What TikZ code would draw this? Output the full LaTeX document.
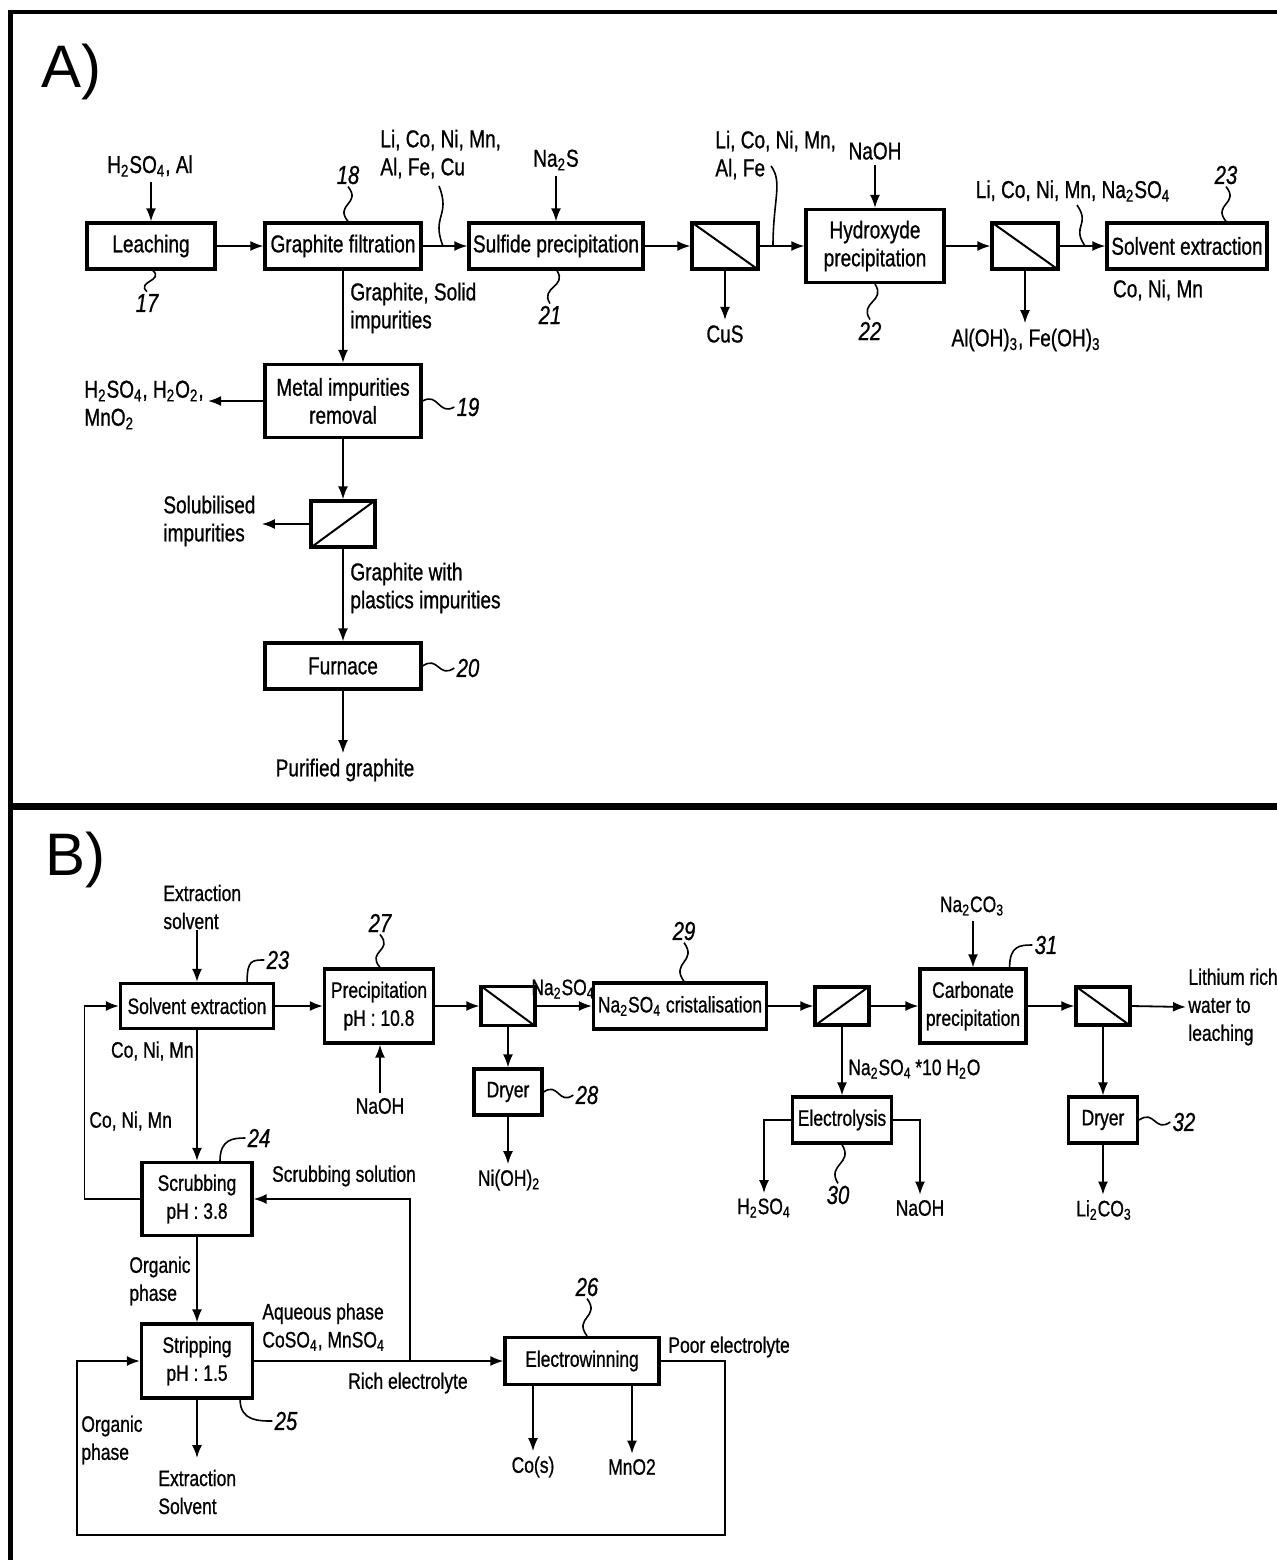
\documentclass[tikz,border=0pt]{standalone}
\usepackage{fontspec}
\setmainfont{Liberation Sans}
\newfontfamily\cond{Liberation Sans}[FakeStretch=0.78,FakeBold=0.8]
\usetikzlibrary{arrows.meta,calc}
\newcommand\fA{\cond\fontsize{12.2}{14}\selectfont}
\newcommand\fB{\cond\fontsize{11.2}{14}\selectfont}
\newcommand\fN{\cond\itshape\fontsize{13}{14}\selectfont}
\newcommand\fBig{\fontsize{30}{32}\selectfont}
\newcommand\sbs[1]{\textsubscript{#1}}
\tikzset{
  bx/.style 2 args={draw, line width=1.6pt, minimum width=#1*0.5pt, minimum height=#2*0.5pt, inner sep=0pt, align=center},
  fl/.style 2 args={draw, line width=1.6pt, minimum width=#1*0.5pt, minimum height=#2*0.5pt, inner sep=0pt},
  lbl/.style={inner sep=2.5pt, align=center},
  lbll/.style={inner sep=0pt, align=left, anchor=west},
  num/.style={inner sep=1pt, font=\fN},
  arr/.style={line width=0.9pt, -{Latex[length=6.5pt,width=5pt]}},
  lead/.style={line width=0.8pt},
  diag/.style={line width=1pt, shorten >=1pt, shorten <=1pt},
  sqv/.style={lead, to path={.. controls ($(\tikztostart)!0.5!(\tikztotarget)+(#1,0)$) and ($(\tikztostart)!0.5!(\tikztotarget)+(-#1,0)$) .. (\tikztotarget)}},
  sqv/.default=14,
  sqh/.style={lead, to path={.. controls ($(\tikztostart)!0.5!(\tikztotarget)+(0,-#1)$) and ($(\tikztostart)!0.5!(\tikztotarget)+(0,#1)$) .. (\tikztotarget)}},
  sqh/.default=12,
}
\begin{document}
\begin{tikzpicture}[x=0.5pt,y=-0.5pt]
\useasboundingbox (0,0) rectangle (1276,1560);
\fill[white] (0,0) rectangle (1276,1560);
% frame
\draw[line width=2.6pt] (10.5,10) -- (10.5,1565);
\draw[line width=2pt] (9,12) -- (1285,12);
\draw[line width=3.5pt] (10.5,806) -- (1285,806);

% ================= Panel A =================
\node[anchor=base west, inner sep=0pt, font=\fBig] (la) at (41,87) {A)};

\node[bx={128}{46}, font=\fA] (leach) at (151,246) {Leaching};
\node[bx={156}{46}, font=\fA] (gf) at (343,246) {Graphite filtration};
\node[bx={174}{46}, font=\fA] (sulf) at (556,246) {Sulfide precipitation};
\node[fl={66}{46}] (f1) at (725,246) {};
\node[bx={138}{73}, font=\fA] (hyd) at (875,246) {Hydroxyde\\precipitation};
\node[fl={66}{46}] (f2) at (1025,246) {};
\node[bx={160}{46}, font=\fA] (seA) at (1187,246) {Solvent extraction};
\node[bx={156}{73}, font=\fA] (metal) at (343,401) {Metal impurities\\removal};
\node[fl={64}{46}] (f3) at (343,524) {};
\node[bx={156}{46}, font=\fA] (furn) at (343,666) {Furnace};

\draw[diag] (f1.north west) -- (f1.south east);
\draw[diag] (f2.north west) -- (f2.south east);
\draw[diag] (f3.south west) -- (f3.north east);

\draw[arr] (leach) -- (gf);
\draw[arr] (gf) -- (sulf);
\draw[arr] (sulf) -- (f1);
\draw[arr] (f1) -- (hyd);
\draw[arr] (hyd) -- (f2);
\draw[arr] (f2) -- (seA);
\draw[arr] (gf) -- (metal);
\draw[arr] (metal) -- (f3);
\draw[arr] (f3) -- (furn);

\node[lbl, font=\fA] (h2so4a) at (150,166) {H\sbs{2}SO\sbs{4}, Al};
\draw[arr] (h2so4a.south -| leach.north) -- (leach.north);
\node[lbl, font=\fA] (na2s) at (556,160) {Na\sbs{2}S};
\draw[arr] (na2s.south -| sulf.north) -- (sulf.north);
\node[lbl, font=\fA] (naoha) at (875,151) {NaOH};
\draw[arr] (naoha.south -| hyd.north) -- (hyd.north);

\node[lbl, font=\fA] (cus) at (725,334) {CuS};
\draw[arr] (f1.south) -- (cus.north);
\node[lbl, font=\fA] (aloh) at (1026,340) {Al(OH)\sbs{3}, Fe(OH)\sbs{3}};
\draw[arr] (f2.south) -- (f2.south |- aloh.north);

\node[lbll, font=\fA] (lm1) at (380,154) {Li, Co, Ni, Mn,\\Al, Fe, Cu};
\coordinate (j1) at (443,246);
\draw[sqv=10] (439,186) to (j1);
\node[lbll, font=\fA] (lm2) at (715,155) {Li, Co, Ni, Mn,\\Al, Fe};
\coordinate (j2) at (773,246);
\draw[lead] (771,166) .. controls (783,182) and (773,200) .. (j2);
\node[lbl, font=\fA] (lm3) at (1073,191) {Li, Co, Ni, Mn, Na\sbs{2}SO\sbs{4}};
\coordinate (j3) at (1085,246);
\draw[sqv=10] (1077,205) to (j3);
\node[lbl, font=\fA] (conimA) at (1158,290) {Co, Ni, Mn};

\node[lbll, font=\fA] (gsi) at (350,308) {Graphite, Solid\\impurities};
\node[lbll, font=\fA] (hhm) at (84,405) {H\sbs{2}SO\sbs{4}, H\sbs{2}O\sbs{2},\\MnO\sbs{2}};
\draw[arr] (metal.west) -- ([xshift=2pt]metal.west -| hhm.east);
\node[lbll, font=\fA] (solu) at (163,521) {Solubilised\\impurities};
\draw[arr] (f3.west) -- ([xshift=3pt]f3.west -| solu.east);
\node[lbll, font=\fA] (gwp) at (350,588) {Graphite with\\plastics impurities};
\node[lbl, font=\fA] (pg) at (345,770) {Purified graphite};
\draw[arr] (furn.south) -- (furn.south |- pg.north);

\node[num] (n17) at (147,303) {17};
\draw[sqv] ([xshift=1pt]leach.south) to (n17.north);
\node[num] (n18) at (348,175) {18};
\draw[sqv] (n18.south) to (n18.south |- gf.north);
\node[num] (n21) at (550,315) {21};
\draw[sqv] ([xshift=0.5pt]sulf.south) to (n21.north);
\node[num] (n22) at (870,331) {22};
\draw[sqv] (hyd.south) to (n22.north);
\node[num] (n23a) at (1226,175) {23};
\draw[sqv] (n23a.south) to (n23a.south |- seA.north);
\node[num] (n19) at (468,407) {19};
\draw[sqh] (metal.east) to (n19.west);
\node[num] (n20) at (468,668) {20};
\draw[sqh] (furn.east) to (n20.west);

% ================= Panel B =================
\node[anchor=base west, inner sep=0pt, font=\fBig] (lb) at (45,875) {B)};

\node[bx={153}{45}, font=\fB] (seB) at (197,1006) {Solvent extraction};
\node[bx={109}{74}, font=\fB] (prec) at (379,1006) {Precipitation\\pH : 10.8};
\node[fl={54}{39}] (f4) at (508,1006) {};
\node[bx={173}{46}, font=\fB] (cry) at (680,1006) {Na\sbs{2}SO\sbs{4} cristalisation};
\node[fl={54}{38}] (f5) at (842,1006) {};
\node[bx={106}{74}, font=\fB] (carb) at (973,1006) {Carbonate\\precipitation};
\node[fl={54}{38}] (f6) at (1103,1006) {};
\node[bx={68}{46}, font=\fB] (dry1) at (508,1092) {Dryer};
\node[bx={99}{46}, font=\fB] (elys) at (842,1120) {Electrolysis};
\node[bx={69}{46}, font=\fB] (dry2) at (1103,1120) {Dryer};
\node[bx={110}{73}, font=\fB] (scrub) at (197,1199) {Scrubbing\\pH : 3.8};
\node[bx={111}{74}, font=\fB] (strip) at (197,1361) {Stripping\\pH : 1.5};
\node[bx={154}{47}, font=\fB] (ew) at (582,1361) {Electrowinning};

\draw[diag] (f4.north west) -- (f4.south east);
\draw[diag] (f5.south west) -- (f5.north east);
\draw[diag] (f6.north west) -- (f6.south east);

\draw[arr] (seB) -- (prec);
\draw[arr] (prec) -- (f4);
\draw[arr] (f4) -- (cry);
\draw[arr] (cry) -- (f5);
\draw[arr] (f5) -- (carb);
\draw[arr] (carb) -- (f6);
\draw[arr] (f4) -- (dry1);
\draw[arr] (f5) -- (elys);
\draw[arr] (f6) -- (dry2);
\draw[arr] (seB) -- (scrub);
\draw[arr] (scrub) -- (strip);
\draw[arr] (strip) -- (ew);
\draw[arr] (scrub.west) -- ++(-56,0) |- (seB.west);
\coordinate (jn) at (410,1361);
\draw[arr] (jn) |- (scrub.east);
\coordinate (pe1) at (725,1535);
\coordinate (pe2) at (77,1535);
\draw[arr] (ew.east) -| (pe1) -- (pe2) |- (strip.west);

\node[lbll, font=\fB] (exs) at (163,907) {Extraction\\solvent};
\draw[arr] (exs.south -| seB.north) -- (seB.north);
\node[lbl, font=\fB] (naohp) at (380,1106) {NaOH};
\draw[arr] (naohp.north) -- (naohp.north |- prec.south);
\node[lbl, inner sep=0pt, font=\fB] (nas) at (563,989) {Na\sbs{2}SO\sbs{4}};
\node[lbl, font=\fB] (nioh) at (509,1180) {Ni(OH)\sbs{2}};
\draw[arr] (dry1.south) -- (dry1.south |- nioh.north);
\node[lbl, font=\fB] (nco) at (972,906) {Na\sbs{2}CO\sbs{3}};
\draw[arr] (nco.south -| carb.north) -- (carb.north);
\node[lbll, font=\fB] (lith) at (1188,1007) {Lithium rich\\water to\\leaching};
\draw[arr] (f6.east) -- ([xshift=-1pt]lith.west);
\node[lbll, font=\fB] (decah) at (848,1069) {Na\sbs{2}SO\sbs{4}\,*10 H\sbs{2}O};
\node[lbl, font=\fB] (h2so4b) at (764,1208) {H\sbs{2}SO\sbs{4}};
\node[lbl, font=\fB] (naohb) at (920,1208) {NaOH};
\draw[arr] (elys.west) -| (h2so4b.north);
\draw[arr] (elys.east) -| (naohb.north);
\node[lbl, font=\fB] (li2co3) at (1104,1210) {Li\sbs{2}CO\sbs{3}};
\draw[arr] (dry2.south) -- (dry2.south |- li2co3.north);

\node[anchor=east, inner sep=0pt, font=\fB] (cnm1) at (194,1051) {Co, Ni, Mn};
\node[lbll, font=\fB] (cnm2) at (89,1121) {Co, Ni, Mn};
\node[lbl, inner sep=0pt, font=\fB] (scs) at (344,1176) {Scrubbing solution};
\node[lbll, font=\fB] (org1) at (129,1281) {Organic\\phase};
\node[lbll, font=\fB] (aqp) at (262,1327) {Aqueous phase\\CoSO\sbs{4}, MnSO\sbs{4}};
\node[lbl, inner sep=0pt, font=\fB] (rich) at (408,1383) {Rich electrolyte};
\node[lbll, font=\fB] (org2) at (81,1440) {Organic\\phase};
\node[lbll, font=\fB] (poor) at (668,1347) {Poor electrolyte};
\node[lbll, font=\fB] (exs2) at (158,1492) {Extraction\\Solvent};
\draw[arr] (strip.south) -- (strip.south |- 0,1458);
\node[lbl, font=\fB] (cos) at (533,1467) {Co(s)};
\node[lbl, font=\fB] (mno) at (632,1467) {MnO2};
\draw[arr] (cos.north |- ew.south) -- (cos.north);
\draw[arr] (mno.north |- ew.south) -- (mno.north);

\node[num] (n27) at (380,923) {27};
\draw[sqv] (n27.south) to (n27.south |- prec.north);
\node[num] (n29) at (684,931) {29};
\draw[sqv] (n29.south) to (n29.south |- cry.north);
\node[num] (n26) at (587,1287) {26};
\draw[sqv] (n26.south) to (n26.south |- ew.north);
\node[num] (n30) at (838,1195) {30};
\draw[sqv] (elys.south) to (n30.north);
\node[num] (n28) at (587,1095) {28};
\draw[sqh] (dry1.east) to (n28.west);
\node[num] (n32) at (1184,1122) {32};
\draw[sqh] (dry2.east) to (n32.west);
\node[num] (n23b) at (278,960) {23};
\draw[lead] ($(seB.north east)+(-28,0)$) .. controls +(0,-22) and +(-12,0) .. (n23b.west);
\node[num] (n24) at (259,1138) {24};
\draw[lead] ($(scrub.north)+(23,0)$) .. controls +(0,-22) and +(-12,0) .. (n24.west);
\node[num] (n31) at (1046,945) {31};
\draw[lead] ($(carb.north east)+(-18,0)$) .. controls +(0,-22) and +(-12,0) .. (n31.west);
\node[num] (n25) at (286,1421) {25};
\draw[lead] ($(strip.south east)+(-14,0)$) .. controls +(0,22) and +(-12,0) .. (n25.west);
\end{tikzpicture}
\end{document}
